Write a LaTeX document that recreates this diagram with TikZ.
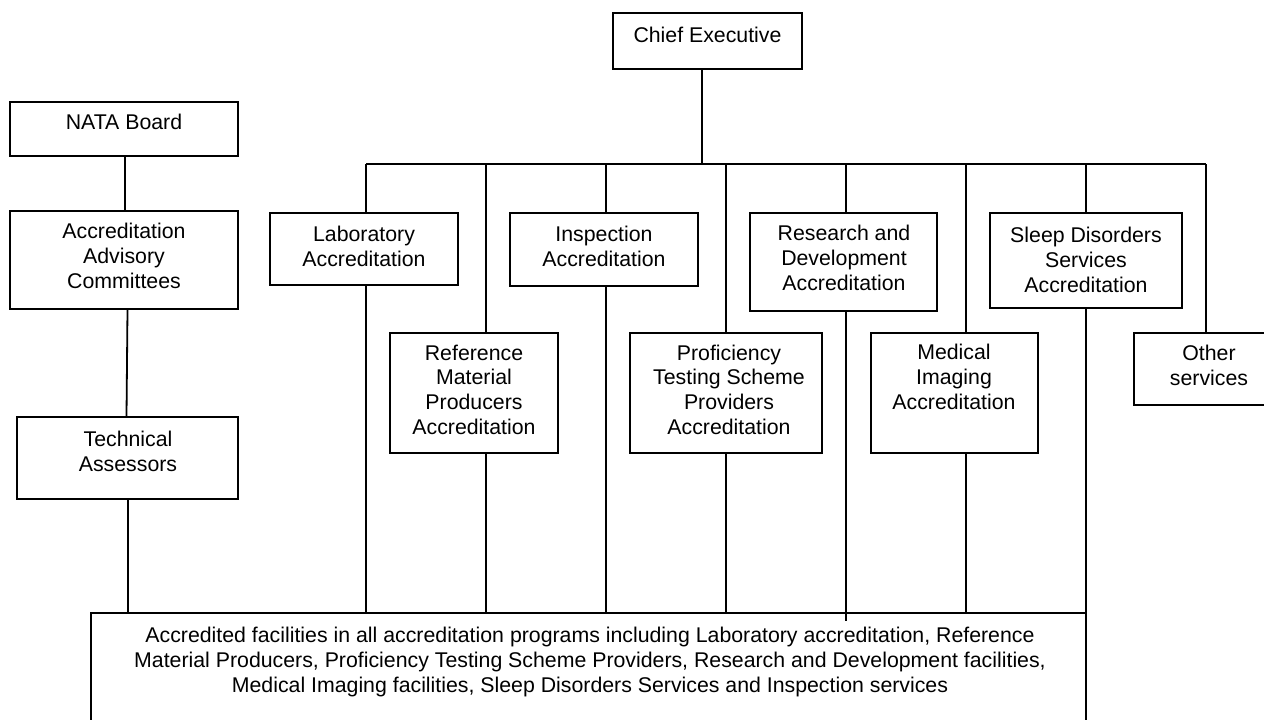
\documentclass[tikz,border=0pt]{standalone}
\usepackage{fontspec}
\setmainfont{Liberation Sans}
\begin{document}
\begin{tikzpicture}[x=1pt,y=-1pt,
  box/.style={draw=black, line width=1.8pt, fill=none, inner sep=0pt, rectangle},
  txt/.style={inner sep=0pt, align=center, anchor=base, font=\fontsize{21.3}{24.6}\selectfont},
  conn/.style={draw=black, line width=1.8pt}]
\useasboundingbox (0,0) rectangle (1264,720);
\clip (0,0) rectangle (1264,720);
\fill[white] (0,0) rectangle (1264,720);
% boxes
\node[box, minimum width=189pt, minimum height=56pt] (ce) at (707.5,41) {};
\node[box, minimum width=228pt, minimum height=54pt] (nata) at (124,129) {};
\node[box, minimum width=228pt, minimum height=98pt] (aac) at (124,260) {};
\node[box, minimum width=221pt, minimum height=82pt] (ta) at (127.5,458) {};
\node[box, minimum width=188pt, minimum height=72pt] (lab) at (364,249) {};
\node[box, minimum width=188pt, minimum height=73pt] (insp) at (604,249.5) {};
\node[box, minimum width=187pt, minimum height=98pt] (rd) at (843.5,262) {};
\node[box, minimum width=192pt, minimum height=95pt] (sleep) at (1086,260.5) {};
\node[box, minimum width=168pt, minimum height=120pt] (ref) at (474,393) {};
\node[box, minimum width=192pt, minimum height=120pt] (prof) at (726,393) {};
\node[box, minimum width=167pt, minimum height=120pt] (med) at (954.5,393) {};
\node[box, minimum width=150pt, minimum height=72pt] (other) at (1209,369) {};
\node[box, minimum width=995pt, minimum height=132pt] (fac) at (588.5,679) {};
% texts (anchor = baseline of the last line)
\node[txt] (ce-t) at (707.5,42) {Chief Executive};
\node[txt] (nata-t) at (124,129.5) {NATA Board};
\node[txt] (aac-t) at (124,288) {Accreditation\\Advisory\\Committees};
\node[txt] (ta-t) at (128,471) {Technical\\Assessors};
\node[txt] (lab-t) at (364,266) {Laboratory\\Accreditation};
\node[txt] (insp-t) at (604,266) {Inspection\\Accreditation};
\node[txt] (rd-t) at (844,290) {Research and\\Development\\Accreditation};
\node[txt] (sleep-t) at (1086,292) {Sleep Disorders\\Services\\Accreditation};
\node[txt] (ref-t) at (474,434) {Reference\\Material\\Producers\\Accreditation};
\node[txt] (prof-t) at (729,434) {Proficiency\\Testing Scheme\\Providers\\Accreditation};
\node[txt] (med-t) at (954,409) {Medical\\Imaging\\Accreditation};
\node[txt] (other-t) at (1209,385) {Other\\services};
\node[txt] (fac-t) at (590,692) {Accredited facilities in all accreditation programs including Laboratory accreditation, Reference\\Material Producers, Proficiency Testing Scheme Providers, Research and Development facilities,\\Medical Imaging facilities, Sleep Disorders Services and Inspection services};
% bus coordinates
\coordinate (b0) at (702,164);
\coordinate (bL) at (366,164);
\coordinate (bR) at (486,164);
\coordinate (bI) at (606,164);
\coordinate (bP) at (726,164);
\coordinate (bD) at (846,164);
\coordinate (bM) at (966,164);
\coordinate (bS) at (1086,164);
\coordinate (bO) at (1206,164);
\coordinate (dEnd) at (846,621);
% connectors
\draw[conn] (ce.south -| b0) -- (b0);
\draw[conn] (bL) -- (bO);
\draw[conn] (bL) -- (lab.north -| bL);
\draw[conn] (lab.south -| bL) -- (fac.north -| bL);
\draw[conn] (bR) -- (ref.north -| bR);
\draw[conn] (ref.south -| bR) -- (fac.north -| bR);
\draw[conn] (bI) -- (insp.north -| bI);
\draw[conn] (insp.south -| bI) -- (fac.north -| bI);
\draw[conn] (bP) -- (prof.north -| bP);
\draw[conn] (prof.south -| bP) -- (fac.north -| bP);
\draw[conn] (bD) -- (rd.north -| bD);
\draw[conn] (rd.south -| bD) -- (dEnd);
\draw[conn] (bM) -- (med.north -| bM);
\draw[conn] (med.south -| bM) -- (fac.north -| bM);
\draw[conn] (bS) -- (sleep.north -| bS);
\draw[conn] (sleep.south -| bS) -- (fac.north -| bS);
\draw[conn] (bO) -- (other.north -| bO);
\draw[conn] (nata.south -| 125,0) -- (aac.north -| 125,0);
\draw[conn] (aac.south -| 127.5,0) -- (ta.north -| 126.5,0);
\draw[conn] (ta.south -| 128,0) -- (fac.north -| 128,0);
\end{tikzpicture}
\end{document}
